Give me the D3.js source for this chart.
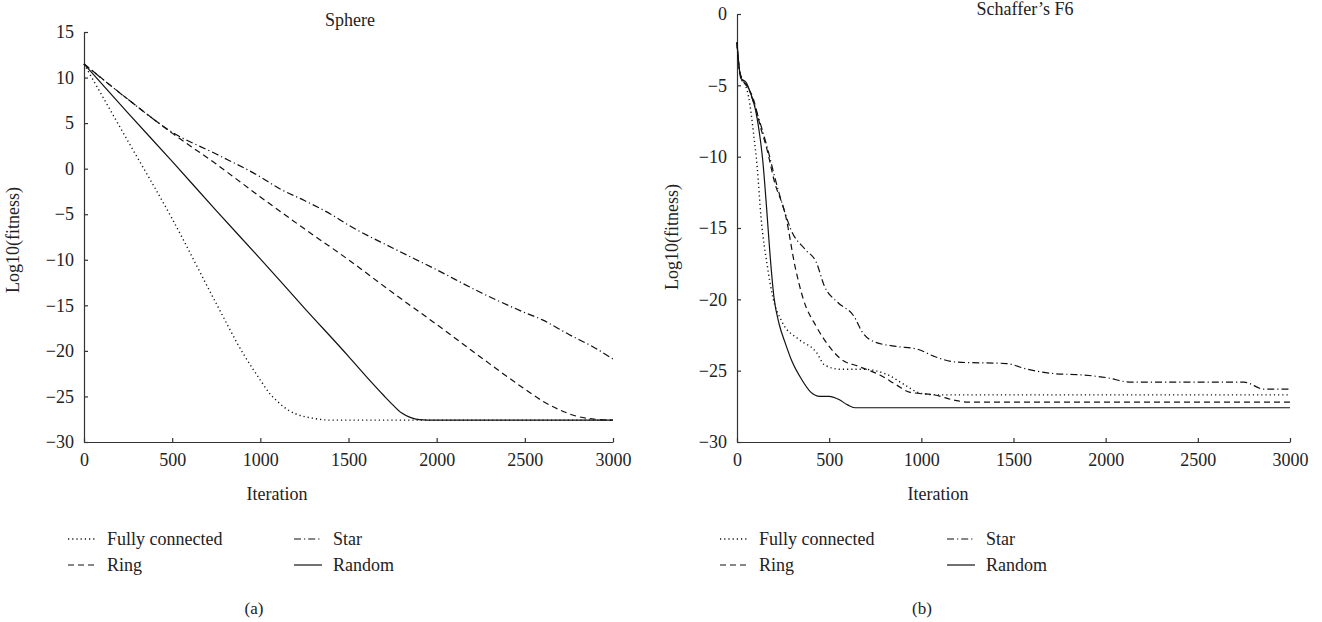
<!DOCTYPE html>
<html>
<head>
<meta charset="utf-8">
<script src="https://cdn.jsdelivr.net/npm/d3@7/dist/d3.min.js"></script>
<style>
  body { margin: 0; background: #fff; }
  svg { display: block; font-family: "Liberation Serif", "DejaVu Serif", serif; }
  .axis path, .axis line { stroke: #333; stroke-width: 1.2; }
  .axis text { font-size: 18px; fill: #222; font-family: "Liberation Serif", serif; }
</style>
</head>
<body>
<svg id="chart" width="1322" height="622"></svg>
<script>
// ---- data: [iteration, log10(fitness)] ----
const seriesNames = ["Fully connected", "Ring", "Star", "Random"];
const xTicks = [0, 500, 1000, 1500, 2000, 2500, 3000];
const sphereTicks = [15, 10, 5, 0, -5, -10, -15, -20, -25, -30];
const schafferTicks = [0, -5, -10, -15, -20, -25, -30];

const sphereFully = [[0, 11.5], [100, 8.1], [250, 3.0], [500, -5.5], [750, -14.8], [900, -20.2],
  [1000, -23.2], [1050, -24.6], [1100, -25.6], [1150, -26.4], [1200, -26.9], [1300, -27.4],
  [1400, -27.6], [3000, -27.6]];
const sphereRing = [[0, 11.5], [250, 7.6], [500, 3.9], [750, 0.5], [1000, -3.1], [1250, -6.6],
  [1500, -10.0], [1750, -13.6], [2000, -17.1], [2250, -20.7], [2500, -24.2], [2600, -25.5],
  [2700, -26.5], [2800, -27.2], [2900, -27.5], [3000, -27.6]];
const sphereStar = [[0, 11.5], [250, 7.6], [500, 4.0], [750, 1.6], [1000, -0.9], [1100, -2.1],
  [1250, -3.5], [1400, -5.0], [1500, -6.2], [1750, -8.7], [2000, -11.1], [2250, -13.6],
  [2500, -15.8], [2600, -16.6], [2750, -18.2], [2900, -19.7], [3000, -20.9]];
const sphereRandom = [[0, 11.5], [250, 6.1], [500, 0.8], [750, -4.6], [1000, -9.9], [1250, -15.3],
  [1500, -20.6], [1600, -22.8], [1700, -24.9], [1750, -25.9], [1800, -26.8], [1850, -27.3],
  [1900, -27.55], [1950, -27.6], [3000, -27.6]];

const schFully = [[0, -2.0], [10, -3.6], [25, -4.6], [45, -5.0], [63, -5.8], [90, -8.4], [110, -10.8],
  [130, -14.2], [165, -17.7], [190, -19.6], [245, -21.6], [335, -22.8], [430, -23.7], [475, -24.6],
  [560, -24.9], [680, -24.9], [820, -25.3], [910, -26.0], [1000, -26.6], [1100, -26.7], [3000, -26.7]];
const schRing = [[0, -2.0], [10, -3.6], [25, -4.5], [45, -4.9], [90, -6.0], [127, -7.9], [163, -9.5],
  [200, -11.6], [265, -14.2], [315, -17.7], [360, -20.0], [430, -21.9], [500, -23.3], [565, -24.2],
  [660, -24.7], [775, -25.3], [865, -26.0], [935, -26.5], [1070, -26.7], [1190, -27.1], [1250, -27.2],
  [3000, -27.2]];
const schStar = [[0, -2.0], [10, -3.6], [25, -4.5], [54, -5.0], [110, -7.0], [163, -9.3], [208, -11.6],
  [262, -14.0], [292, -15.1], [370, -16.5], [430, -17.4], [475, -19.1], [545, -20.2], [635, -21.2],
  [680, -22.3], [750, -23.0], [865, -23.3], [980, -23.5], [1070, -24.0], [1190, -24.4], [1460, -24.5],
  [1575, -24.9], [1715, -25.2], [1875, -25.3], [2010, -25.5], [2130, -25.8], [2500, -25.8],
  [2750, -25.8], [2860, -26.3], [3000, -26.3]];
const schRandom = [[0, -2.0], [10, -3.5], [20, -4.5], [50, -4.8], [80, -5.8], [100, -6.7], [120, -8.2],
  [140, -10.3], [160, -13.5], [180, -17.0], [200, -19.8], [230, -21.8], [260, -23.0], [300, -24.4],
  [350, -25.6], [400, -26.5], [450, -26.8], [500, -26.8], [550, -27.0], [600, -27.4], [640, -27.6],
  [3000, -27.6]];

const dashes = ["1.2,3", "6,4", "7,3,1.2,3", null];

const svg = d3.select("#chart");

function drawPanel(cfg) {
  const x = d3.scaleLinear().domain([0, 3000]).range(cfg.xRange);
  const y = d3.scaleLinear().domain(cfg.yDomain).range(cfg.yRange);
  const g = svg.append("g");

  g.append("g")
    .attr("class", "axis")
    .attr("transform", `translate(0,${cfg.yRange[0]})`)
    .call(d3.axisBottom(x).tickValues(xTicks).tickSizeInner(-4).tickSizeOuter(0).tickPadding(11)
      .tickFormat(d3.format("d")));

  g.append("g")
    .attr("class", "axis")
    .attr("transform", `translate(${cfg.xRange[0]},0)`)
    .call(d3.axisLeft(y).tickValues(cfg.yTicks).tickSizeInner(-4).tickSizeOuter(0).tickPadding(10)
      .tickFormat(d => d < 0 ? "\u2212" + Math.abs(d) : d));

  g.selectAll(".axis .domain").attr("fill", "none");

  const line = d3.line()
    .x(d => x(d[0]))
    .y(d => y(d[1]))
    .curve(d3.curveMonotoneX);

  cfg.series.forEach((s, i) => {
    g.append("path")
      .datum(s)
      .attr("d", line)
      .attr("fill", "none")
      .attr("stroke", "#111")
      .attr("stroke-width", i == 0 ? 1.4 : 1.2)
      .attr("stroke-dasharray", dashes[i]);
  });

  // title
  g.append("text")
    .attr("x", cfg.titleX).attr("y", cfg.titleY)
    .attr("text-anchor", "middle")
    .attr("font-size", 18).attr("fill", "#222")
    .text(cfg.title);

  // axis labels
  g.append("text")
    .attr("transform", `translate(${cfg.yLabelX},${cfg.yLabelY}) rotate(-90)`)
    .attr("text-anchor", "middle")
    .attr("font-size", 18).attr("fill", "#222")
    .text("Log10(fitness)");

  g.append("text")
    .attr("x", cfg.xLabelX).attr("y", 500)
    .attr("text-anchor", "middle")
    .attr("font-size", 18).attr("fill", "#222")
    .text("Iteration");

  // legend
  const lx = [cfg.legendX, cfg.legendX2];
  seriesNames.forEach((name, i) => {
    const col = i == 0 || i == 1 ? 0 : 1;
    const row = i == 0 || i == 2 ? 0 : 1;
    const ly = 539 + row * 26;
    g.append("line")
      .attr("x1", lx[col]).attr("x2", lx[col] + 28)
      .attr("y1", ly).attr("y2", ly)
      .attr("stroke", "#111")
      .attr("stroke-width", i == 0 ? 1.4 : 1.2)
      .attr("stroke-dasharray", dashes[i]);
    g.append("text")
      .attr("x", lx[col] + 39).attr("y", ly + 6)
      .attr("font-size", 18).attr("fill", "#222")
      .text(name);
  });

  g.append("text")
    .attr("x", cfg.subX).attr("y", 614)
    .attr("text-anchor", "middle")
    .attr("font-size", 17).attr("fill", "#222")
    .text(cfg.sub);
}

drawPanel({
  xRange: [84, 613], yRange: [442, 32], yDomain: [-30, 15], yTicks: sphereTicks,
  series: [sphereFully, sphereRing, sphereStar, sphereRandom],
  title: "Sphere", titleX: 350, titleY: 26,
  yLabelX: 19, yLabelY: 240, xLabelX: 277,
  legendX: 68, legendX2: 294, subX: 254, sub: "(a)"
});

drawPanel({
  xRange: [737, 1290], yRange: [442, 14], yDomain: [-30, 0], yTicks: schafferTicks,
  series: [schFully, schRing, schStar, schRandom],
  title: "Schaffer\u2019s F6", titleX: 1025, titleY: 15,
  yLabelX: 678, yLabelY: 237, xLabelX: 938,
  legendX: 720, legendX2: 947, subX: 922, sub: "(b)"
});
</script>
</body>
</html>
